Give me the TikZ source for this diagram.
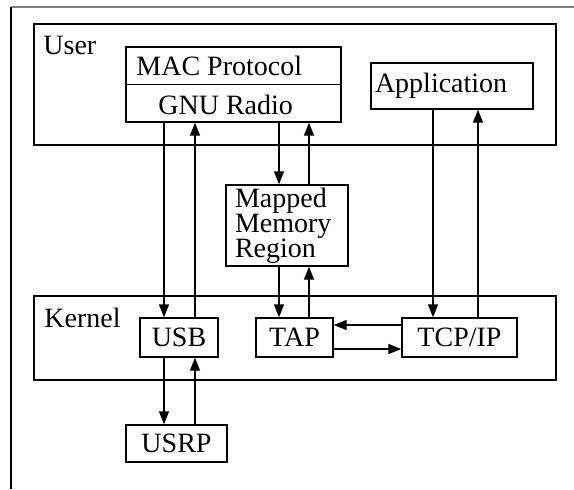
\documentclass[tikz,border=0pt]{standalone}
\usepackage{fontspec}
\setmainfont{Liberation Serif}
\usepackage{tikz}
\usetikzlibrary{arrows.meta, positioning}

\begin{document}
\begin{tikzpicture}[
        x=0.5pt, y=-0.5pt,
        every node/.style={font=\fontsize{14}{12.5}\selectfont},
        box/.style={draw, line width=0.7pt, inner sep=0pt},
        lbl/.style={anchor=base west, inner sep=0pt},
        arr/.style={line width=0.7pt, -{Triangle[length=6.5pt, width=5pt]}}
    ]
        \useasboundingbox (0,0) rectangle (574,489);

        % outer frame
        \draw[gray, line width=1pt] (11,7) -- (574,7);
        \draw[line width=0.8pt] (11,7) -- (11,489);

        % user space
        \node[box, minimum width=261pt, minimum height=60.5pt] (user) at (295,84.5) {};
        \node[lbl] (userlbl) at (43,54) {User};
        \node[box, minimum width=107.5pt, minimum height=37.5pt] (mac) at (233.5,84.5) {};
        \draw[line width=0.7pt] (mac.west) -- (mac.east);
        \node[lbl] (macup) at (136,75) {MAC Protocol};
        \node[lbl] (macdown) at (158,114) {GNU Radio};
        \node[box, minimum height=23pt, text width=77pt, inner xsep=2pt, align=left] (app) at (452,86) {Application};

        % shared memory
        \node[box, minimum height=40.5pt, text width=52pt, inner xsep=4.5pt, align=left] (mapped) at (287,225.5) {Mapped\\Memory\\Region};

        % kernel space
        \node[box, minimum width=261pt, minimum height=42pt] (kernel) at (295,338) {};
        \node[lbl] (kernellbl) at (44,327) {Kernel};
        \node[box, minimum width=39pt, minimum height=19.5pt] (usb) at (179,337.5) {USB};
        \node[box, minimum width=38.5pt, minimum height=19.5pt] (tap) at (294.5,337.5) {TAP};
        \node[box, minimum width=57.5pt, minimum height=19.5pt] (tcp) at (459.5,337.5) {TCP/IP};

        % hardware
        \node[box, minimum width=50.5pt, minimum height=18.5pt] (usrp) at (176.5,443.5) {USRP};

        % USB <-> MAC
        \draw[arr] ([xshift=-7.5pt]usb.north |- mac.south) -- ([xshift=-7.5pt]usb.north);
        \draw[arr] ([xshift=8pt]usb.north) -- ([xshift=8pt]usb.north |- mac.south);
        % MAC <-> mapped
        \draw[arr] ([xshift=-4pt]mapped.north |- mac.south) -- ([xshift=-4pt]mapped.north);
        \draw[arr] ([xshift=11pt]mapped.north) -- ([xshift=11pt]mapped.north |- mac.south);
        % mapped <-> TAP
        \draw[arr] ([xshift=-4pt]mapped.south) -- ([xshift=-4pt]mapped.south |- tap.north);
        \draw[arr] ([xshift=11pt]mapped.south |- tap.north) -- ([xshift=11pt]mapped.south);
        % app <-> TCP
        \draw[arr] ([xshift=-9.5pt]app.south) -- ([xshift=-9.5pt]app.south |- tcp.north);
        \draw[arr] ([xshift=13pt]app.south |- tcp.north) -- ([xshift=13pt]app.south);
        % TAP <-> TCP
        \draw[arr] ([yshift=6.25pt]tcp.west) -- ([yshift=6.25pt]tcp.west -| tap.east);
        \draw[arr] ([yshift=-5.75pt]tap.east) -- ([yshift=-5.75pt]tap.east -| tcp.west);
        % USB <-> USRP
        \draw[arr] ([xshift=-7.5pt]usb.south) -- ([xshift=-7.5pt]usb.south |- usrp.north);
        \draw[arr] ([xshift=8pt]usb.south |- usrp.north) -- ([xshift=8pt]usb.south);
\end{tikzpicture}
\end{document}
